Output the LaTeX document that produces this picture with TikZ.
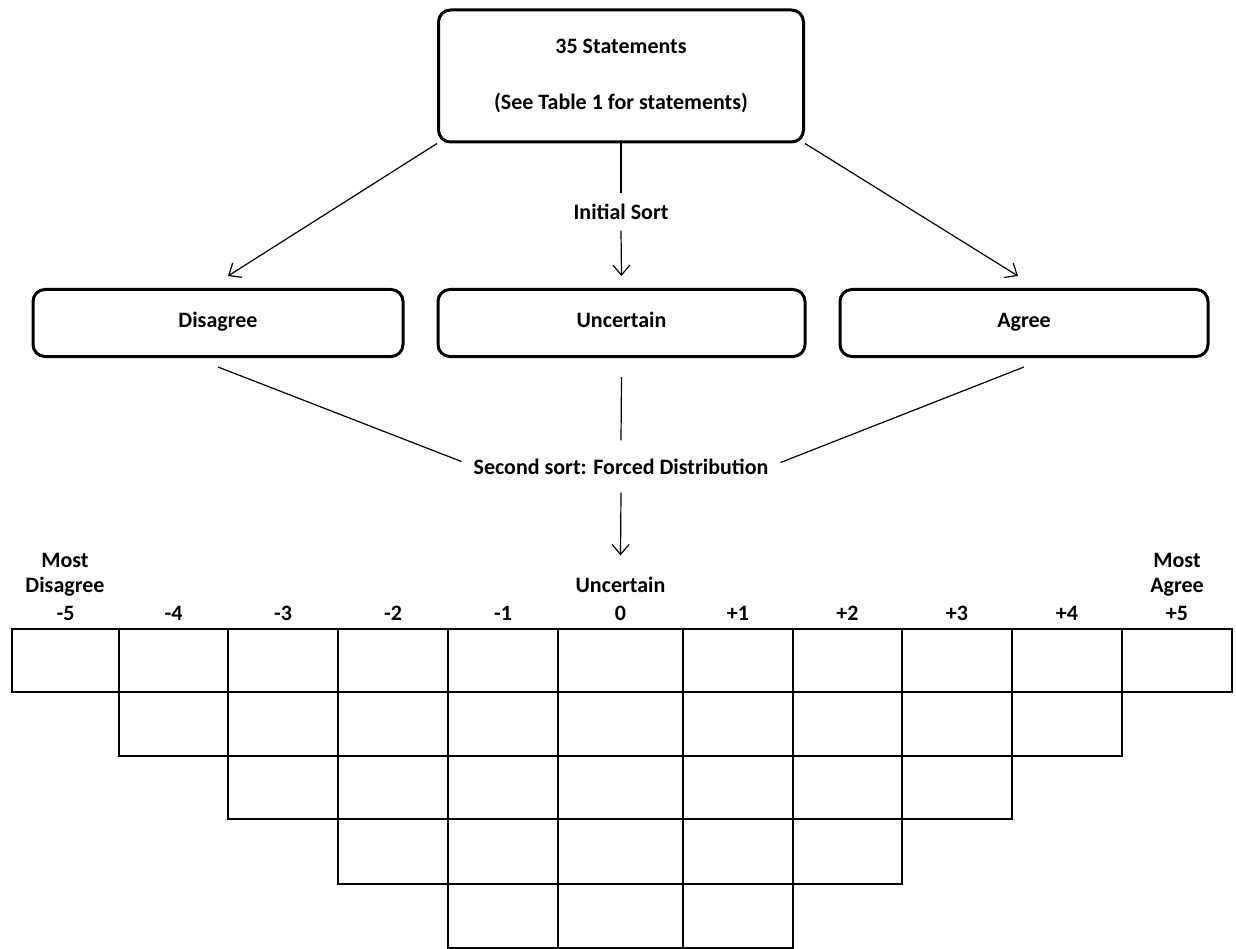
\documentclass[tikz,border=0pt]{standalone}
\usepackage{fontspec}
\setmainfont{Carlito}
\usetikzlibrary{arrows.meta,calc}

\begin{document}
\begin{tikzpicture}[x=1pt,y=-1pt,
    font=\fontsize{22}{25}\selectfont\bfseries,
    sortbox/.style={draw, line width=3pt, rounded corners=12pt, inner sep=0pt},
    pile/.style={sortbox, minimum height=67, text height=14, text depth=5},
    lbl/.style={inner sep=0pt},
    link/.style={line width=1.2pt},
    arr/.style={link, -{Straight Barb[length=10pt,width=17pt]}},
    cell/.style={line width=1.8pt}]
  \useasboundingbox (0,0) rectangle (1236,949);

  % Define the column and row edges of the grid
  \foreach \x [count=\c from 0] in {12,119,228,338,448,558,683,793,902,1012,1122,1232}
    \coordinate (c\c) at (\x,0);
  \foreach \y [count=\r from 0] in {629,692,756,819,884,948}
    \coordinate (r\r) at (0,\y);

  % Draw the statement box
  \node[sortbox, minimum width=365, minimum height=132, align=center] (stmts) at (621,76)
    {35 Statements\\[31pt](See Table 1 for statements)};

  % Draw the three piles
  \node[pile, minimum width=370] (disagree) at (218,323) {Disagree};
  \node[pile, minimum width=367] (uncertain) at (621.5,323) {Uncertain};
  \node[pile, minimum width=368] (agree) at (1024,323) {Agree};

  % First sort
  \node[lbl, minimum height=37] (isort) at (621,212) {Initial Sort};
  \draw[arr] (stmts.south west) -- ([xshift=10pt,yshift=12pt]disagree.north);
  \draw[arr] (stmts.south east) -- ([xshift=-6pt,yshift=12pt]agree.north);
  \draw[link] (stmts.south) -- (isort.north);
  \draw[arr] (isort.south) -- ([yshift=12pt]uncertain.north);

  % Second sort
  \node[lbl, inner xsep=12pt, minimum height=52] (ssort) at (621,466.5) {Second sort: Forced Distribution};
  \draw[link] ([yshift=-9pt]disagree.south) -- ([yshift=5pt]ssort.west);
  \draw[link] ([yshift=-9pt]agree.south) -- ([yshift=4pt]ssort.east);
  \draw[link] ([yshift=-19pt]uncertain.south) -- (ssort.north);

  % Label the scale
  \node[lbl, align=center] (mostdis) at (65,575) {Most\\Disagree};
  \node[lbl, anchor=base] (hd0) at (620.5,592) {Uncertain};
  \node[lbl, align=center] (mostagr) at (1177,575) {Most\\Agree};
  \draw[arr] (ssort.south) -- ([yshift=21pt]hd0.north);

  \foreach \t [count=\i from 0] in {-5,-4,-3,-2,-1,0,+1,+2,+3,+4,+5} {
    \pgfmathtruncatemacro\j{\i+1}
    \node[lbl, anchor=base] (val\i) at ($(c\i |- 0,620)!0.5!(c\j |- 0,620)$) {\t};
  }

  % Draw the grid
  \foreach \r in {0,...,4} {
    \pgfmathtruncatemacro\last{10-\r}
    \pgfmathtruncatemacro\rn{\r+1}
    \foreach \c in {\r,...,\last} {
      \pgfmathtruncatemacro\cn{\c+1}
      \draw[cell] (c\c |- r\r) rectangle (c\cn |- r\rn);
    }
  }

\end{tikzpicture}
\end{document}
